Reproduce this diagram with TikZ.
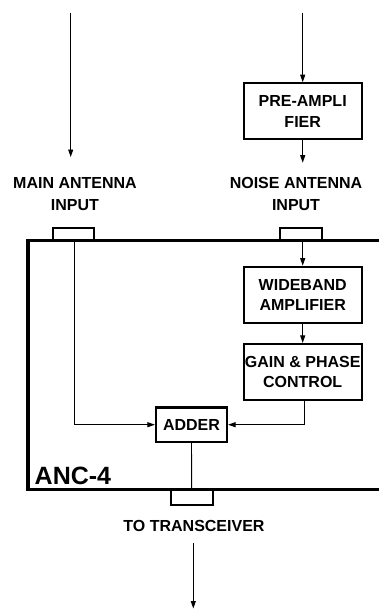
\documentclass[tikz,border=0pt]{standalone}
\usepackage{fontspec}
\setmainfont{Liberation Sans}
\usetikzlibrary{arrows.meta}
\begin{document}
\begin{tikzpicture}[x=1pt,y=-1pt,
  lbl/.style={font=\fontsize{16}{21.5}\selectfont\bfseries, align=center, inner sep=0pt},
  blk/.style={draw, line width=2.2pt, minimum width=118pt, inner sep=0pt, align=center,
              font=\fontsize{16}{20.5}\selectfont\bfseries},
  tab/.style={draw, line width=2pt},
  conn/.style={line width=0.9pt},
  arr/.style={conn, -{Triangle[length=7.5pt,width=5pt]}}]
\useasboundingbox (0,0) rectangle (379,610);
% main box
\draw[line width=3.3pt, line join=miter] (379,240.5) -- (28,240.5) -- (28,489.5) -- (379,489.5);
% tabs
\draw[tab] (52.7,240) rectangle (94,227.8);
\draw[tab] (280,240) rectangle (321.7,227.8);
\draw[tab] (171,490) rectangle (213.3,504.5);
% blocks
\node[blk, minimum height=56pt] (pre) at (302.7,111.3) {PRE-AMPLI\\FIER};
\node[blk, minimum height=56.5pt] (wide) at (302.7,295) {WIDEBAND\\AMPLIFIER};
\node[blk, minimum height=56pt] (gain) at (302.7,372) {GAIN \& PHASE\\CONTROL};
\node[blk, minimum width=71pt, minimum height=34.5pt] (adder) at (191.5,424.7) {ADDER};
% labels
\node[lbl] (mainlbl) at (75,194) {MAIN ANTENNA\\INPUT};
\node[lbl] (noiselbl) at (296,194) {NOISE ANTENNA\\INPUT};
\node[lbl] (txlbl) at (194,526) {TO TRANSCEIVER};
\node[font=\fontsize{25}{28}\selectfont\bfseries, inner sep=0pt, anchor=west] (anc) at (34.5,476) {ANC-4};
% coordinates
\coordinate (matop) at (70.7,12.7);
\coordinate (maend) at (70.7,157);
\coordinate (natop) at (302.7,12.7);
\coordinate (preend) at (302.7,162.7);
\coordinate (mainin) at (74,241);
\coordinate (noisein) at (302.7,241);
\coordinate (addout) at (191.7,489);
\coordinate (txtop) at (193.3,543.3);
\coordinate (txend) at (193.3,608.5);
% connectors
\draw[arr] (matop) -- (maend);
\draw[arr] (natop) -- (pre.north);
\draw[arr] (pre.south) -- (preend);
\draw[arr] (noisein) -- (wide.north);
\draw[arr] (wide.south) -- (gain.north);
\draw[arr] ([xshift=1.3pt]gain.south) |- (adder.east);
\draw[arr] (mainin) |- (adder.west);
\draw[conn] (adder.south) -- (addout);
\draw[arr] (txtop) -- (txend);
\end{tikzpicture}
\end{document}
